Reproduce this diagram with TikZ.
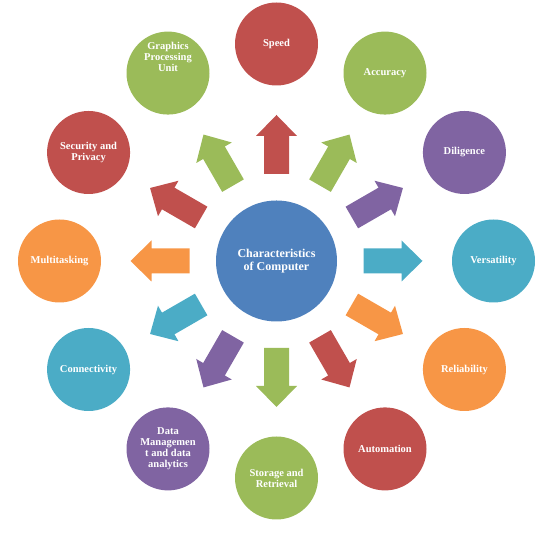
\documentclass[tikz,border=0pt]{standalone}
\usepackage{fontspec}
\setmainfont{Liberation Serif}
\usetikzlibrary{calc}
\definecolor{cred}{HTML}{C0504D}
\definecolor{cgreen}{HTML}{9BBB59}
\definecolor{cpurple}{HTML}{8064A2}
\definecolor{cteal}{HTML}{4BACC6}
\definecolor{corange}{HTML}{F79646}
\definecolor{cblue}{HTML}{4F81BD}
\tikzset{
  hub/.style={circle, fill=cblue, minimum size=121pt, inner sep=0pt, text=white, align=center,
    font=\bfseries\fontsize{12}{13}\selectfont},
  feat/.style={circle, fill=#1, minimum size=83pt, inner sep=0pt, text=white, align=center,
    font=\bfseries\fontsize{10.5}{11}\selectfont},
  ftext/.style={text=white, align=center, inner sep=0pt, font=\bfseries\fontsize{10.5}{11}\selectfont},
}
\begin{document}
\begin{tikzpicture}[x=1pt,y=1pt]
\useasboundingbox (0,0) rectangle (557,537);
\coordinate (O) at (276.5,276);
% block arrows
\foreach \ang/\col in {90/cred,60/cgreen,30/cpurple,0/cteal,-30/corange,-60/cred,-90/cgreen,-120/cpurple,-150/cteal,180/corange,150/cred,120/cgreen}{
  \begin{scope}[shift={(O)}, rotate=\ang]
    \fill[\col] (87,-12.5) -- (125,-12.5) -- (125,-20.5) -- (146,0) -- (125,20.5) -- (125,12.5) -- (87,12.5) -- cycle;
  \end{scope}
}
\node[hub] (hub) at (O) {Characteristics\\of Computer};
\node[feat=cred]    (speed) at ($(O)+(90:217)$)   {Speed};
\node[feat=cgreen]  (acc)   at ($(O)+(60:217)$)   {Accuracy};
\node[feat=cpurple] (dil)   at ($(O)+(30:217)$)   {Diligence};
\node[feat=cteal]   (ver)   at ($(O)+(0:217)$)    {Versatility};
\node[feat=corange] (rel)   at ($(O)+(-30:217)$)  {Reliability};
\node[feat=cred]    (aut)   at ($(O)+(-60:217)$)  {Automation};
\node[feat=cgreen]  (sto)   at ($(O)+(-90:217)$)  {Storage and\\Retrieval};
\node[feat=cpurple] (dat)   at ($(O)+(-120:217)$) {Data\\Managemen\\t and data\\analytics};
\node[feat=cteal]   (con)   at ($(O)+(-150:217)$) {Connectivity};
\node[feat=corange] (mul)   at ($(O)+(180:217)$)  {Multitasking};
\node[feat=cred]    (sec)   at ($(O)+(150:217)$)  {Security and\\Privacy};
\node[feat=cgreen]  (gpu)   at ($(O)+(120:217)$)  {};
\node[ftext] (gputext) at ($(gpu.center)+(0,16)$) {Graphics\\Processing\\Unit};
\end{tikzpicture}
\end{document}
